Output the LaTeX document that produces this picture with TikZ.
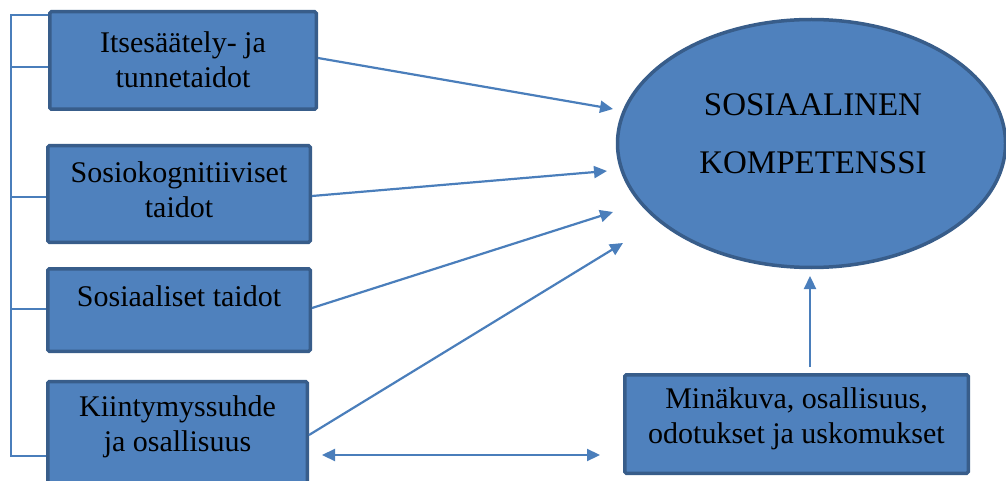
\documentclass[tikz,border=0pt]{standalone}
\usepackage{fontspec}
\setmainfont{Liberation Serif}
\usetikzlibrary{arrows.meta,shapes.geometric}
\definecolor{boxfill}{HTML}{4F81BD}
\definecolor{boxline}{HTML}{385D8A}
\definecolor{arrcol}{HTML}{4A7EBB}
\tikzset{
  box/.style={draw=boxline, fill=boxfill, line width=3.5pt, rounded corners=1.5pt, inner sep=0pt, minimum width=#1},
  lbl/.style={align=center, inner sep=0pt, font=\fontsize{30}{35}\selectfont},
  arr/.style={draw=arrcol, line width=2.2pt, -{Triangle[length=13pt,width=12pt]}},
  darr/.style={draw=arrcol, line width=2.2pt, {Triangle[length=13pt,width=12pt]}-{Triangle[length=13pt,width=12pt]}},
  brk/.style={draw=arrcol, line width=1.4pt}
}
\begin{document}
\begin{tikzpicture}[x=1pt,y=-1pt]
\useasboundingbox (0,0) rectangle (1006,481);
% boxes
\node[box=266.5pt, minimum height=97.5pt] (b1) at (183,60.5) {};
\node[box=262.5pt, minimum height=96.5pt] (b2) at (179,194) {};
\node[box=262.5pt, minimum height=82.5pt] (b3) at (179,310) {};
\node[box=259.5pt, minimum height=110pt] (b4) at (177.5,436.5) {};
\node[box=343.5pt, minimum height=98.5pt] (b5) at (796.5,424) {};
\node[draw=boxline, fill=boxfill, line width=3.5pt, ellipse, minimum width=388pt, minimum height=248pt, inner sep=0pt] (k) at (811.5,143.5) {};
% labels
\node[lbl] (t1) at (183,60) {Itsesäätely- ja\\tunnetaidot};
\node[lbl] (t2) at (179,190) {Sosiokognitiiviset\\taidot};
\node[lbl] (t3) at (179,296) {Sosiaaliset taidot};
\node[lbl] (t4) at (177.5,426.5) {Kiintymyssuhde\\ja osallisuus};
\node[lbl] (t5) at (796.5,418.5) {Minäkuva, osallisuus,\\odotukset ja uskomukset};
\node[align=center, inner sep=0pt, font=\fontsize{33}{58}\selectfont] (kt) at (813,134) {SOSIAALINEN\\KOMPETENSSI};
% free ends
\coordinate (e1) at (613,109);
\coordinate (e2) at (607,171);
\coordinate (e3) at (613,212);
\coordinate (e4) at (623,243);
\coordinate (e5) at (810,276);
\coordinate (s5) at (810,367);
\coordinate (dl) at (322,455);
\coordinate (dr) at (600,455);
\coordinate (bt) at (11,15);
\coordinate (bb) at (11,456);
% arrows
\draw[arr] (b1.east) ++(0,-2.5) -- (e1);
\draw[arr] (b2.east) ++(0,2) -- (e2);
\draw[arr] (b3.east) ++(0,-2) -- (e3);
\draw[arr] (b4.east) ++(0,-1.5) -- (e4);
\draw[arr] (s5) -- (e5);
\draw[darr] (dl) -- (dr);
% bracket
\draw[brk] (b1.west |- bt) -- (bt) -- (bb) -- (b4.west |- bb);
\draw[brk] (11,67) -- (b1.west |- 0,67);
\draw[brk] (11,197) -- (b2.west |- 0,197);
\draw[brk] (11,309) -- (b3.west |- 0,309);
\end{tikzpicture}
\end{document}
